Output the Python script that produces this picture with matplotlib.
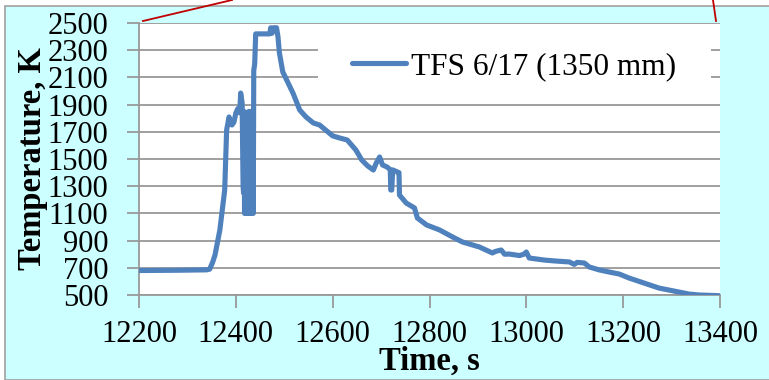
import matplotlib.pyplot as plt
from matplotlib.patches import Rectangle
from matplotlib.lines import Line2D

# Thermocouple trace
time_s = [12200, 12280, 12340, 12346, 12352, 12357, 12367, 12377, 12381,
          12386, 12392, 12396, 12400, 12404, 12408, 12410, 12413, 12415,
          12416, 12417, 12418, 12419, 12420, 12421, 12422, 12423, 12424,
          12425, 12426, 12427, 12428, 12429, 12430, 12431, 12432, 12433,
          12434, 12435, 12436, 12437, 12439, 12441, 12470,
          12472, 12475, 12478, 12484, 12487, 12490, 12497, 12505, 12518,
          12532, 12545, 12560, 12573, 12600, 12614, 12630, 12639, 12648,
          12660, 12672, 12684, 12690, 12697, 12703, 12713, 12719, 12720,
          12722, 12724, 12734, 12737, 12738, 12752, 12769, 12775, 12794,
          12821, 12848, 12868, 12903, 12930, 12936, 12948, 12955, 12965,
          12986, 12995, 13000, 13006, 13037, 13060, 13089, 13099, 13105,
          13120, 13130, 13151, 13171, 13192, 13212, 13243, 13274, 13305,
          13336, 13357, 13398]
temp_k = [680, 682, 685, 690, 740, 794, 978, 1272, 1713,
          1809, 1750, 1770, 1838, 1870, 1840, 1985, 1912, 1300,
          1250, 1850, 1100, 1800, 1120, 1840, 1100, 1830, 1110,
          1820, 1100, 1850, 1100, 1840, 1120, 1830, 1100, 1850,
          1110, 1820, 1100, 2150, 2200, 2420, 2420,
          2465, 2425, 2465, 2465, 2400, 2280, 2140, 2081, 1985,
          1860, 1809, 1765, 1750, 1670, 1655, 1640, 1603, 1566,
          1493, 1450, 1419, 1470, 1515, 1456, 1440, 1420, 1272,
          1272, 1420, 1404, 1400, 1235, 1176, 1140, 1066, 1015,
          978, 926, 890, 853, 809, 820, 831, 800, 801,
          790, 800, 816, 772, 757, 750, 743, 725, 740,
          735, 706, 684, 669, 654, 625, 588, 551, 529,
          507, 500, 495]

series_name = "TFS 6/17 (1350 mm)"
x_ticks = [12200, 12400, 12600, 12800, 13000, 13200, 13400]
y_ticks = list(range(500, 2501, 200))

W, H = 769, 380
BLUE = "#4F81BD"
GRID = "#999999"

plt.rcParams["font.family"] = ["Liberation Serif", "DejaVu Serif"]

fig = plt.figure(figsize=(W / 100, H / 100), dpi=100, facecolor="white")

# cyan chart area with a thin grey border on top/left
fig.patches.append(Rectangle((5 / W, 0), 1, 1 - 6 / H, transform=fig.transFigure,
                             facecolor="#CCFFFF", edgecolor="#A0A0A0", lw=1.2,
                             zorder=-5))

ax = fig.add_axes([139 / W, 1 - 295 / H, 581 / W, 272 / H])
ax.set_facecolor("white")
ax.plot(time_s, temp_k, color=BLUE, lw=3.7, solid_joinstyle="round",
        solid_capstyle="round", zorder=3, label=series_name)

ax.set_xlim(12200, 13400)
ax.set_ylim(500, 2500)
ax.set_xticks(x_ticks)
ax.set_yticks(y_ticks)
ax.yaxis.grid(True, color=GRID, lw=1.3)
ax.set_axisbelow(True)
for s in ("top", "right"):
    ax.spines[s].set_visible(False)
for s in ("left", "bottom"):
    ax.spines[s].set_color(GRID)
    ax.spines[s].set_linewidth(1.3)
ax.tick_params(axis="both", colors=GRID, length=9, width=1.3, labelsize=22,
               labelcolor="black")
ax.tick_params(axis="y", pad=13)
ax.tick_params(axis="x", pad=9)

ax.set_xlabel("Time, s", fontsize=23.5, fontweight="bold", labelpad=-2)
ax.set_ylabel("Temperature, K", fontsize=23.5, fontweight="bold", labelpad=0)

# white legend box that hides the grid behind it
ax.add_patch(Rectangle((0.308, 0.735), 0.677, 0.2025, transform=ax.transAxes,
                       facecolor="white", edgecolor="none", zorder=1))
ax.legend(loc="center left", bbox_to_anchor=(0.366, 0.84), frameon=False,
          fontsize=22.5, handlelength=1.73, handletextpad=0.16, borderpad=0,
          borderaxespad=0)

# red leader lines
fig.add_artist(Line2D([143 / W, 232 / W], [1 - 21 / H, 1.0],
                      transform=fig.transFigure, color="#C00000", lw=1.3))
fig.add_artist(Line2D([716 / W, 713 / W], [1 - 21 / H, 1.0],
                      transform=fig.transFigure, color="#C00000", lw=1.3))

fig.savefig("out.png", dpi=100, facecolor=fig.get_facecolor())
